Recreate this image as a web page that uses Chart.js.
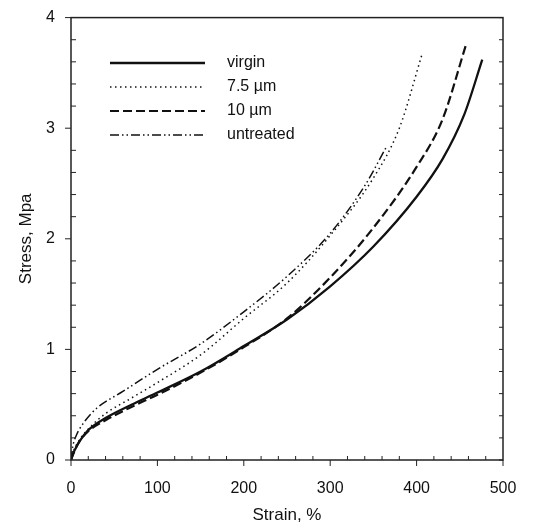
<!DOCTYPE html>
<html>
<head>
<meta charset="utf-8">
<script src="https://cdn.jsdelivr.net/npm/chart.js@4/dist/chart.umd.min.js"></script>
<style>
    html, body { margin: 0; padding: 0; background: #fff; }
</style>
</head>
<body>
<canvas id="stressChart" width="544" height="530"></canvas>
<script>
"use strict";

// curves (strain %, stress MPa)
var virginStrain = [0, 2, 5, 10, 20, 40, 70, 100, 150, 200, 250, 300, 350, 400, 430, 455, 476];
var virginStress = [0, 0.05, 0.1, 0.17, 0.27, 0.38, 0.5, 0.61, 0.8, 1.03, 1.27, 1.57, 1.93, 2.38, 2.72, 3.12, 3.62];

var sevenStrain = [0, 3, 8, 20, 40, 70, 100, 150, 200, 250, 300, 350, 380, 406];
var sevenStress = [0, 0.08, 0.16, 0.28, 0.42, 0.56, 0.7, 0.95, 1.28, 1.6, 2.03, 2.55, 3.0, 3.66];

var tenStrain = [0, 5, 10, 20, 40, 70, 100, 150, 200, 250, 300, 350, 400, 430, 457];
var tenStress = [0, 0.1, 0.17, 0.26, 0.36, 0.48, 0.59, 0.79, 1.02, 1.28, 1.65, 2.1, 2.65, 3.08, 3.75];

var untreatedStrain = [0, 2, 6, 15, 30, 60, 100, 150, 200, 250, 300, 340, 365];
var untreatedStress = [0, 0.12, 0.22, 0.34, 0.47, 0.62, 0.82, 1.05, 1.34, 1.66, 2.05, 2.48, 2.83];

var seriesLabels = ["virgin", "7.5 \u00b5m", "10 \u00b5m", "untreated"];
var xTicks = [0, 100, 200, 300, 400, 500];
var yTicks = [0, 1, 2, 3, 4];

var fontFamily = "'Liberation Sans', Arial, sans-serif";

function toPoints(xs, ys) {
    var pts = [];
    for (var i = 0; i < xs.length; i++) {
        pts.push({ x: xs[i], y: ys[i] });
    }
    return pts;
}

function makeSet(label, xs, ys, width, dash) {
    return {
        label: label,
        data: toPoints(xs, ys),
        borderColor: "#111",
        borderWidth: width,
        borderDash: dash,
        pointRadius: 0,
        fill: false,
        cubicInterpolationMode: "monotone"
    };
}

// frame, tick marks and the in-plot legend
var framePlugin = {
    id: "frame",
    afterDatasetsDraw: function(chart) {
        var ctx = chart.ctx;
        var area = chart.chartArea;
        var xs = chart.scales.x;
        var ys = chart.scales.y;
        ctx.save();
        ctx.strokeStyle = "#222";
        ctx.lineWidth = 1.5;
        ctx.strokeRect(area.left, area.top, area.right - area.left, area.bottom - area.top);

        ctx.lineWidth = 1;
        ctx.beginPath();
        var v, p;
        for (v = 0; v <= 500; v += 20) {
            p = xs.getPixelForValue(v);
            if (v % 100 === 0) {
                ctx.moveTo(p, area.bottom);
                ctx.lineTo(p, area.bottom + 6);
            } else {
                ctx.moveTo(p, area.bottom);
                ctx.lineTo(p, area.bottom - 4);
            }
        }
        for (v = 0; v <= 4.001; v += 0.2) {
            p = ys.getPixelForValue(v);
            var major = Math.abs(v - Math.round(v)) < 0.01;
            if (major) {
                ctx.moveTo(area.left - 6, p);
                ctx.lineTo(area.left, p);
            } else {
                ctx.moveTo(area.left, p);
                ctx.lineTo(area.left + 5, p);
            }
            ctx.moveTo(area.right, p);
            ctx.lineTo(area.right - 4, p);
        }
        ctx.stroke();

        // legend
        var lx = 110, lw = 95, ly = 63, gap = 24;
        ctx.font = "16px " + fontFamily;
        ctx.fillStyle = "#111";
        ctx.textBaseline = "middle";
        chart.data.datasets.forEach(function(ds, i) {
            var y = ly + i * gap;
            ctx.strokeStyle = ds.borderColor;
            ctx.lineWidth = ds.borderWidth;
            ctx.setLineDash(ds.borderDash);
            ctx.beginPath();
            ctx.moveTo(lx, y);
            ctx.lineTo(lx + lw, y);
            ctx.stroke();
            ctx.setLineDash([]);
            ctx.fillText(ds.label, lx + lw + 22, y);
        });
        ctx.restore();
    }
};

var ctx = document.getElementById("stressChart");

new Chart(ctx, {
    type: "line",
    data: {
        datasets: [
            makeSet(seriesLabels[0], virginStrain, virginStress, 2.3, []),
            makeSet(seriesLabels[1], sevenStrain, sevenStress, 1.5, [1.5, 3.5]),
            makeSet(seriesLabels[2], tenStrain, tenStress, 2.2, [9, 4]),
            makeSet(seriesLabels[3], untreatedStrain, untreatedStress, 1.5, [9, 3, 1.5, 3, 1.5, 3])
        ]
    },
    options: {
        responsive: false,
        animation: false,
        layout: { padding: { left: 0, top: 15, right: 41, bottom: 0 } },
        plugins: {
            legend: { display: false },
            tooltip: { enabled: false }
        },
        scales: {
            x: {
                type: "linear",
                min: 0,
                max: 500,
                afterBuildTicks: function(scale) {
                    scale.ticks = xTicks.map(function(t) { return { value: t }; });
                },
                afterFit: function(scale) { scale.height = 70; },
                grid: { display: false },
                border: { display: false },
                ticks: { color: "#111", padding: 11, maxRotation: 0, font: { family: fontFamily, size: 16 } },
                title: {
                    display: true,
                    text: "Strain, %",
                    color: "#111",
                    padding: { top: 6 },
                    font: { family: fontFamily, size: 17 }
                }
            },
            y: {
                type: "linear",
                min: 0,
                max: 4,
                afterBuildTicks: function(scale) {
                    scale.ticks = yTicks.map(function(t) { return { value: t }; });
                },
                afterFit: function(scale) { scale.width = 71; },
                grid: { display: false },
                border: { display: false },
                ticks: { color: "#111", padding: 8, font: { family: fontFamily, size: 16 } },
                title: {
                    display: true,
                    text: "Stress, Mpa",
                    color: "#111",
                    padding: { top: 16, bottom: 0 },
                    font: { family: fontFamily, size: 17 }
                }
            }
        }
    },
    plugins: [framePlugin]
});
</script>
</body>
</html>
